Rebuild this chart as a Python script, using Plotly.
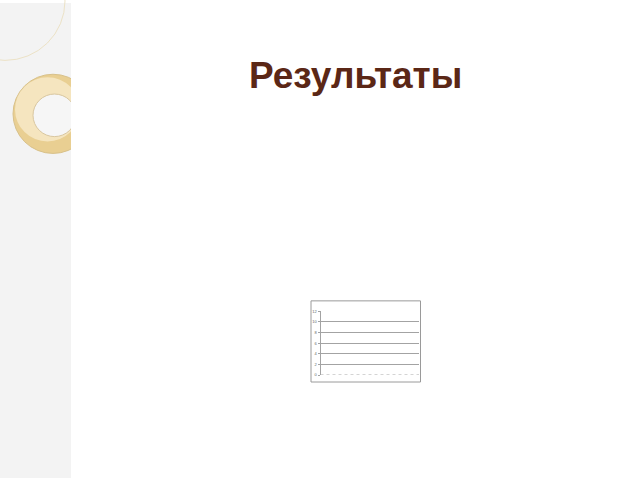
import plotly.graph_objects as go

categories = [str(i) for i in range(1, 13)]
series_values = [0] * 12
y_ticks = [0, 2, 4, 6, 8, 10, 12]
title_text = "Результаты"

W, H = 640, 480

def px_x(x):
    return x / W

def px_y(y):
    return 1 - y / H

fig = go.Figure()
fig.add_trace(go.Scatter(
    x=categories, y=series_values, mode="lines",
    line=dict(color="#9a9a9a", width=1, dash="dot"),
    showlegend=False, hoverinfo="skip",
))

shapes = []
# left strip
shapes.append(dict(type="rect", xref="paper", yref="paper", x0=0, x1=px_x(71), y0=0, y1=1,
                   fillcolor="#f3f3f3", line=dict(width=0), layer="below"))
# faint arc circle top-left
shapes.append(dict(type="circle", xref="paper", yref="paper",
                   x0=px_x(-55), x1=px_x(65), y0=px_y(58), y1=px_y(-62),
                   fillcolor="rgba(0,0,0,0)", line=dict(color="#ece2c6", width=1), layer="below"))
# ring
shapes.append(dict(type="circle", xref="paper", yref="paper",
                   x0=px_x(13), x1=px_x(93), y0=px_y(152), y1=px_y(72),
                   fillcolor="#e9cf92", line=dict(color="#d8c18a", width=1), layer="below"))
shapes.append(dict(type="circle", xref="paper", yref="paper",
                   x0=px_x(15), x1=px_x(80), y0=px_y(140), y1=px_y(75),
                   fillcolor="rgba(248,236,205,0.75)", line=dict(width=0), layer="below"))
shapes.append(dict(type="circle", xref="paper", yref="paper",
                   x0=px_x(33), x1=px_x(76), y0=px_y(135), y1=px_y(92),
                   fillcolor="#f6f6f6", line=dict(color="#d9c7a0", width=1), layer="below"))
# white cover right of strip
shapes.append(dict(type="rect", xref="paper", yref="paper", x0=px_x(71), x1=1, y0=0, y1=1,
                   fillcolor="#ffffff", line=dict(width=0), layer="below"))
# chart box
shapes.append(dict(type="rect", xref="paper", yref="paper",
                   x0=px_x(311), x1=px_x(420.5), y0=px_y(383), y1=px_y(301),
                   fillcolor="rgba(0,0,0,0)", line=dict(color="#9a9a9a", width=1), layer="above"))

fig.update_layout(
    width=W, height=H,
    margin=dict(l=0, r=0, t=0, b=0),
    paper_bgcolor="#ffffff", plot_bgcolor="#ffffff",
    shapes=shapes,
    annotations=[dict(text="<b>" + title_text + "</b>", xref="paper", yref="paper",
                      x=px_x(355), y=px_y(73), showarrow=False,
                      font=dict(family="Liberation Sans, Arial", size=37, color="#5b2716"),
                      xanchor="center", yanchor="middle")],
    xaxis=dict(domain=[px_x(320.5), px_x(419)], showticklabels=False, showgrid=False,
               showline=False, zeroline=False, ticks=""),
    yaxis=dict(domain=[px_y(376), px_y(311.5)], range=[0, 12], tickvals=y_ticks,
               showgrid=True, gridcolor="#a3a3a3", gridwidth=1, zeroline=False,
               showline=True, linecolor="#a3a3a3", ticks="outside", ticklen=2,
               tickcolor="#a3a3a3",
               tickfont=dict(size=4, color="#666666", family="Liberation Sans, Arial")),
)

fig.write_html("out.html", config={"displayModeBar": False},
               post_script="document.body.style.margin='0';document.body.style.overflow='hidden';")
